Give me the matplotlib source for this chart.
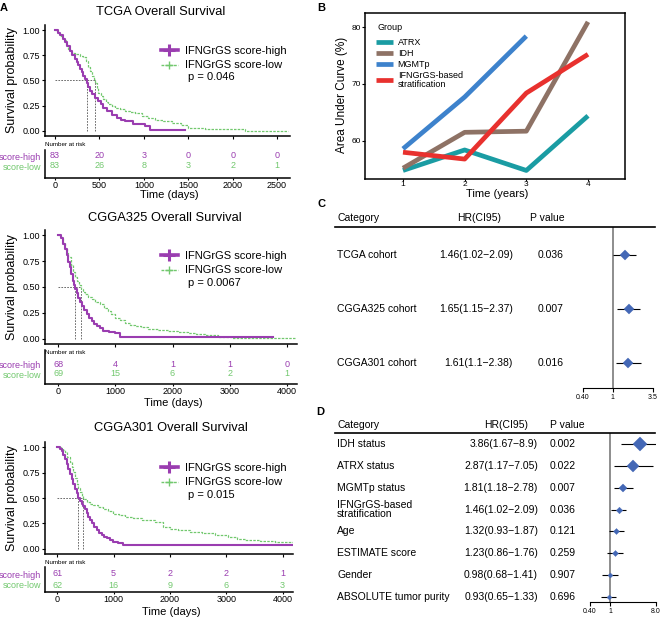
import matplotlib
matplotlib.use("Agg")
import matplotlib.pyplot as plt
from matplotlib.lines import Line2D

plt.rcParams['font.family'] = ['Liberation Sans', 'DejaVu Sans']

W, H = 661, 620

# ---------------- panel A: Kaplan-Meier step points (days, survival) ----------------
tcga_high_t = [0, 30, 56, 85, 113, 140, 169, 195, 225, 245, 263, 282, 300, 320, 338, 357, 375, 394,
               420, 450, 488, 515, 544, 582, 638, 694, 740, 788, 882, 1013, 1070, 1464]
tcga_high_s = [1.0, 0.975, 0.947, 0.915, 0.88, 0.84, 0.797, 0.755, 0.713, 0.683, 0.653, 0.615, 0.58,
               0.547, 0.513, 0.48, 0.44, 0.397, 0.363, 0.33, 0.297, 0.265, 0.23, 0.197, 0.163, 0.13,
               0.11, 0.097, 0.07, 0.047, 0.013, 0.013]
tcga_low_t = [0, 30, 60, 90, 120, 150, 169, 190, 225, 280, 319, 345, 375, 395, 413, 435, 450, 470, 488,
              515, 544, 570, 600, 640, 676, 730, 788, 840, 900, 976, 1050, 1126, 1220, 1314, 1420, 1501,
              1689, 2140, 2624]
tcga_low_s = [1.0, 0.975, 0.94, 0.9, 0.855, 0.81, 0.787, 0.77, 0.763, 0.745, 0.73, 0.69, 0.63, 0.59,
              0.547, 0.51, 0.48, 0.43, 0.38, 0.345, 0.313, 0.29, 0.263, 0.245, 0.23, 0.213, 0.197, 0.185,
              0.18, 0.147, 0.13, 0.113, 0.1, 0.08, 0.06, 0.03, 0.02, 0.003, 0.003]

c325_high_t = [0, 40, 88, 115, 146, 175, 204, 228, 251, 268, 292, 320, 350, 380, 408, 450, 496, 540,
               584, 630, 671, 730, 788, 880, 992, 1080, 3766]
c325_high_s = [1.0, 0.97, 0.918, 0.87, 0.805, 0.745, 0.69, 0.625, 0.561, 0.52, 0.48, 0.44, 0.398, 0.355,
               0.317, 0.275, 0.236, 0.2, 0.171, 0.145, 0.122, 0.1, 0.08, 0.068, 0.057, 0.015, 0.015]
c325_low_t = [0, 40, 80, 117, 145, 175, 220, 263, 290, 321, 360, 397, 430, 467, 520, 584, 650, 730, 800,
              876, 930, 992, 1080, 1167, 1250, 1343, 1450, 1576, 1750, 1926, 2100, 2277, 2420, 2569,
              2800, 3036, 4146]
c325_low_s = [1.0, 0.96, 0.92, 0.87, 0.83, 0.788, 0.715, 0.642, 0.6, 0.561, 0.52, 0.48, 0.455, 0.431,
              0.405, 0.382, 0.36, 0.333, 0.3, 0.268, 0.235, 0.203, 0.178, 0.154, 0.138, 0.122, 0.11,
              0.099, 0.085, 0.073, 0.065, 0.057, 0.045, 0.034, 0.02, 0.008, 0.008]

c301_high_t = [0, 40, 78, 105, 137, 165, 196, 226, 256, 285, 314, 345, 374, 405, 433, 462, 492, 520,
               551, 580, 611, 655, 699, 745, 788, 830, 877, 940, 995, 1080, 1172, 4186]
c301_high_s = [1.0, 0.985, 0.965, 0.925, 0.883, 0.835, 0.786, 0.737, 0.688, 0.64, 0.591, 0.55, 0.497,
               0.47, 0.445, 0.42, 0.396, 0.355, 0.315, 0.28, 0.25, 0.215, 0.185, 0.16, 0.136, 0.12,
               0.104, 0.085, 0.071, 0.058, 0.042, 0.042]
c301_low_t = [0, 60, 100, 137, 180, 226, 255, 285, 315, 344, 375, 403, 435, 463, 522, 580, 640, 730, 817,
              900, 995, 1100, 1202, 1350, 1498, 1735, 1883, 2000, 2149, 2350, 2564, 2800, 3037, 3200,
              3333, 3600, 3866, 4222]
c301_low_s = [1.0, 0.99, 0.975, 0.948, 0.9, 0.851, 0.8, 0.753, 0.7, 0.64, 0.6, 0.558, 0.52, 0.493,
              0.461, 0.445, 0.429, 0.41, 0.396, 0.375, 0.347, 0.33, 0.315, 0.3, 0.282, 0.266, 0.217,
              0.2, 0.185, 0.17, 0.152, 0.135, 0.12, 0.1, 0.088, 0.08, 0.071, 0.071]

tcga_ticks = [0, 500, 1000, 1500, 2000, 2500]
tcga_risk_high = [83, 20, 3, 0, 0, 0]
tcga_risk_low = [83, 26, 8, 3, 2, 1]
cgga_ticks = [0, 1000, 2000, 3000, 4000]
c325_risk_high = [68, 4, 1, 1, 0]
c325_risk_low = [69, 15, 6, 2, 1]
c301_risk_high = [61, 5, 2, 2, 1]
c301_risk_low = [62, 16, 9, 6, 3]
pvals_km = ["0.046", "0.0067", "0.015"]

# ---------------- panel B: time-dependent AUC ----------------
years = [1, 2, 3, 4]
auc_atrx = [54.8, 58.4, 54.8, 64.4]
auc_idh = [55.2, 61.5, 61.7, 80.9]
auc_mgmt = [58.6, 67.7, 78.4]
auc_ifngrgs = [58.0, 56.8, 68.4, 75.2]

# ---------------- panel C / D: Cox results ----------------
c_names = ["TCGA cohort", "CGGA325 cohort", "CGGA301 cohort"]
c_hr = [1.46, 1.65, 1.61]
c_lo = [1.02, 1.15, 1.1]
c_hi = [2.09, 2.37, 2.38]
c_p = ["0.036", "0.007", "0.016"]

d_names = ["IDH status", "ATRX status", "MGMTp status", "IFNGrGS-based\nstratification", "Age",
           "ESTIMATE score", "Gender", "ABSOLUTE tumor purity"]
d_hr = [3.86, 2.87, 1.81, 1.46, 1.32, 1.23, 0.98, 0.93]
d_lo = [1.67, 1.17, 1.18, 1.02, 0.93, 0.86, 0.68, 0.65]
d_hi = [8.9, 7.05, 2.78, 2.09, 1.87, 1.76, 1.41, 1.33]
d_p = ["0.002", "0.022", "0.007", "0.036", "0.121", "0.259", "0.907", "0.696"]

PURPLE = "#9A3DB0"
GREEN = "#72C86E"
DIAMOND = "#4468B6"

fig = plt.figure(figsize=(W / 100, H / 100), dpi=100)


def box(x0, y0, x1, y1):
    return [x0 / W, 1 - y1 / H, (x1 - x0) / W, (y1 - y0) / H]


def ftext(x, y, s, **kw):
    fig.text(x / W, 1 - y / H, s, **kw)


def fline(x0, x1, y0, y1, **kw):
    fig.add_artist(Line2D([x0 / W, x1 / W], [1 - y0 / H, 1 - y1 / H], transform=fig.transFigure, **kw))


def fmt(v):
    return f"{v:g}"


def km_panel(title, high, low, ticks, risk_high, risk_low, pval, lay):
    ax = fig.add_axes(box(*lay["km"]))
    ax.step(high[0], high[1], where="post", color=PURPLE, lw=1.5, zorder=3)
    ax.step(low[0], low[1], where="post", color=GREEN, lw=0.9, ls=(0, (2, 1)), zorder=2)
    meds = [next(t for t, s in zip(*c) if s <= 0.5) for c in (high, low)]
    dash = dict(color="#555555", lw=0.6, ls=(0, (2, 1.5)), zorder=1)
    ax.plot([0, max(meds)], [0.5, 0.5], **dash)
    for m in meds:
        ax.plot([m, m], [0, 0.5], **dash)
    ax.set_xlim(*lay["xlim"])
    ax.set_ylim(-0.05, 1.05)
    ax.set_yticks([0, 0.25, 0.5, 0.75, 1.0])
    ax.set_yticklabels(["0.00", "0.25", "0.50", "0.75", "1.00"], fontsize=6.5)
    ax.set_xticks(ticks)
    ax.set_xticklabels([])
    for sp in ("top", "right"):
        ax.spines[sp].set_visible(False)
    for sp in ("left", "bottom"):
        ax.spines[sp].set_linewidth(1.1)
    ax.tick_params(length=2, width=0.8, pad=1.5)

    handles = [Line2D([], [], color=PURPLE, lw=2.6, marker="+", ms=8, mew=2.2),
               Line2D([], [], color=GREEN, lw=1.0, ls=(0, (2, 1)), marker="+", ms=6, mew=1)]
    lx, ly = lay["legend"]
    fig.legend(handles, ["IFNGrGS score-high", "IFNGrGS score-low"], loc="upper left",
               bbox_to_anchor=(lx / W, 1 - ly / H), frameon=False, fontsize=8,
               handlelength=1.5, handletextpad=0.7, borderpad=0, borderaxespad=0, labelspacing=0.4)
    ftext(188, lay["p"], f"p = {pval}", fontsize=8, va="center")

    tx, ty = lay["title"]
    ftext(tx, ty, title, fontsize=9.3, ha="center", va="center")
    km_top, km_bot = lay["km"][1], lay["km"][3]
    ftext(12, (km_top + km_bot) / 2, "Survival probability", fontsize=9, rotation=90,
          ha="center", va="center")

    rx0, rtop, rx1, rbot = lay["risk"]
    rax = fig.add_axes(box(*lay["risk"]))
    rax.set_xlim(*lay["xlim"])
    rax.set_ylim(0, 1)
    yh = (rbot - lay["rows"][0]) / (rbot - rtop)
    yl = (rbot - lay["rows"][1]) / (rbot - rtop)
    for t, nh, nl in zip(ticks, risk_high, risk_low):
        rax.text(t, yh, str(nh), ha="center", va="center", color=PURPLE, fontsize=6.5)
        rax.text(t, yl, str(nl), ha="center", va="center", color=GREEN, fontsize=6.5)
    rax.set_yticks([yh, yl])
    rax.set_yticklabels(["score-high", "score-low"], fontsize=6.5)
    for lab, c in zip(rax.get_yticklabels(), (PURPLE, GREEN)):
        lab.set_color(c)
    rax.set_xticks(ticks)
    rax.set_xticklabels([str(t) for t in ticks], fontsize=6.5)
    rax.tick_params(axis="y", length=0, pad=3)
    rax.tick_params(axis="x", length=1.5, width=0.8, pad=0.5)
    for sp in ("top", "right"):
        rax.spines[sp].set_visible(False)
    for sp in ("left", "bottom"):
        rax.spines[sp].set_linewidth(1.1)
    ftext(45, lay["nar"], "Number at risk", fontsize=4.5, va="center")
    ftext((lay["km"][0] + lay["km"][2]) / 2 + 2, lay["xlab"], "Time (days)", fontsize=8,
          ha="center", va="center")


km_panel("TCGA Overall Survival", (tcga_high_t, tcga_high_s), (tcga_low_t, tcga_low_s),
         tcga_ticks, tcga_risk_high, tcga_risk_low, pvals_km[0],
         dict(km=(45, 25, 290, 136), xlim=(-113, 2646), legend=(161, 46), p=77, title=(161, 12),
              risk=(45, 150, 290, 178), rows=(156, 166), nar=145, xlab=195))
km_panel("CGGA325 Overall Survival", (c325_high_t, c325_high_s), (c325_low_t, c325_low_s),
         cgga_ticks, c325_risk_high, c325_risk_low, pvals_km[1],
         dict(km=(45, 230, 297, 344), xlim=(-233, 4180), legend=(161, 251), p=283, title=(165, 218),
              risk=(45, 350, 297, 384), rows=(364, 374), nar=353, xlab=403))
km_panel("CGGA301 Overall Survival", (c301_high_t, c301_high_s), (c301_low_t, c301_low_s),
         cgga_ticks, c301_risk_high, c301_risk_low, pvals_km[2],
         dict(km=(45, 442, 293, 554), xlim=(-218, 4186), legend=(161, 463), p=495, title=(171, 428),
              risk=(45, 567, 293, 592), rows=(574, 585), nar=562, xlab=612))

# ---------------- panel B ----------------
bx = fig.add_axes(box(365, 13, 625, 179))
series = [("ATRX", auc_atrx, "#1A9CA3"), ("IDH", auc_idh, "#8E7265"),
          ("MGMTp", auc_mgmt, "#3D82CC"), ("IFNGrGS-based\nstratification", auc_ifngrgs, "#E8312E")]
for name, vals, col in series:
    bx.plot(years[:len(vals)], vals, color=col, lw=3.4, label=name, solid_capstyle="butt")
bx.set_xlim(0.384, 4.6)
bx.set_ylim(53.3, 82.46)
bx.set_xticks(years)
bx.set_yticks([60, 70, 80])
bx.tick_params(labelsize=6, length=2, width=0.8, pad=1.0)
bx.tick_params(axis="x", length=1.5, pad=0.3)
for sp in bx.spines.values():
    sp.set_linewidth(1.1)
leg = bx.legend(loc="upper left", bbox_to_anchor=(376 / W, 1 - 38 / H),
                bbox_transform=fig.transFigure, frameon=False, fontsize=6.5,
                handlelength=1.9, handletextpad=0.5, borderpad=0, borderaxespad=0,
                labelspacing=0.22)
for t in leg.get_texts():
    t.set_linespacing(0.95)
ftext(377, 28, "Group", fontsize=6.5, va="center")
ftext(497, 194, "Time (years)", fontsize=8, ha="center", va="center")
ftext(342, 95, "Area Under Curve (%)", fontsize=8.5, rotation=90, ha="center", va="center")


# ---------------- panels C and D: forest tables ----------------
def forest(names, hr, lo, hi, pv, lay, sizes):
    x0, top, x1, bot = lay["axes"]
    y0, step = lay["rows"]
    ax = fig.add_axes(box(x0, top, x1, bot))
    ax.set_xscale("log")
    ax.set_xlim(*lay["xlim"])
    n = len(names)
    ax.set_ylim((bot - y0) / step, (top - y0) / step)
    idx = list(range(n))
    ax.axvline(1, color="#7A7A7A", lw=1.2, zorder=1)
    ax.hlines(idx, lo, hi, color="black", lw=0.8, zorder=2)
    for i in idx:
        ax.plot(hr[i], i, marker="D", ms=sizes[i], color=DIAMOND, mec=DIAMOND, mew=0.3, zorder=3)
    ax.set_xticks(lay["ticks"])
    ax.set_xticklabels(lay["ticklabels"], fontsize=5)
    ax.minorticks_off()
    ax.set_yticks([])
    for sp in ("top", "left", "right"):
        ax.spines[sp].set_visible(False)
    ax.spines["bottom"].set_linewidth(0.8)
    ax.tick_params(axis="x", length=3, width=0.8, pad=1.5)

    hy = lay["header"]
    ftext(337, hy, "Category", fontsize=7.5, va="center")
    ftext(lay["hr_head"], hy, "HR(CI95)", fontsize=7.5, va="center")
    ftext(lay["p_head"], hy, "P value", fontsize=7.5, va="center")
    fline(335, 655, top, top, color="black", lw=1.2)
    for i in idx:
        y = y0 + i * step
        ftext(337, y, names[i], fontsize=7.5, va="center", linespacing=0.8)
        ftext(lay["hr_x"], y, f"{hr[i]:.2f}({fmt(lo[i])}\u2212{fmt(hi[i])})", fontsize=7.5,
              va="center", ha="right")
        ftext(lay["p_x"], y, pv[i], fontsize=7.5, va="center")


forest(c_names, c_hr, c_lo, c_hi, c_p,
       dict(axes=(583, 227, 653, 388), rows=(255, 54), xlim=(0.4, 3.5), ticks=[0.4, 1, 3.5],
            ticklabels=["0.40", "1", "3.5"], header=218, hr_head=457, p_head=530, hr_x=513, p_x=538),
       [5.6, 5.6, 5.6])
forest(d_names, d_hr, d_lo, d_hi, d_p,
       dict(axes=(590, 433, 656, 602), rows=(444, 21.85), xlim=(0.4, 8.0), ticks=[0.4, 1, 8.0],
            ticklabels=["0.40", "1", "8.0"], header=425, hr_head=484, p_head=550, hr_x=538, p_x=550),
       [7.0, 6.2, 3.9, 3.3, 3.0, 3.0, 2.5, 2.5])

for lab, (x, y) in zip("ABCD", [(4, 8), (321, 8), (321, 204), (320, 412)]):
    ftext(x, y, lab, fontsize=8, fontweight="bold", ha="center", va="center")

fig.savefig("out.png", dpi=100)
